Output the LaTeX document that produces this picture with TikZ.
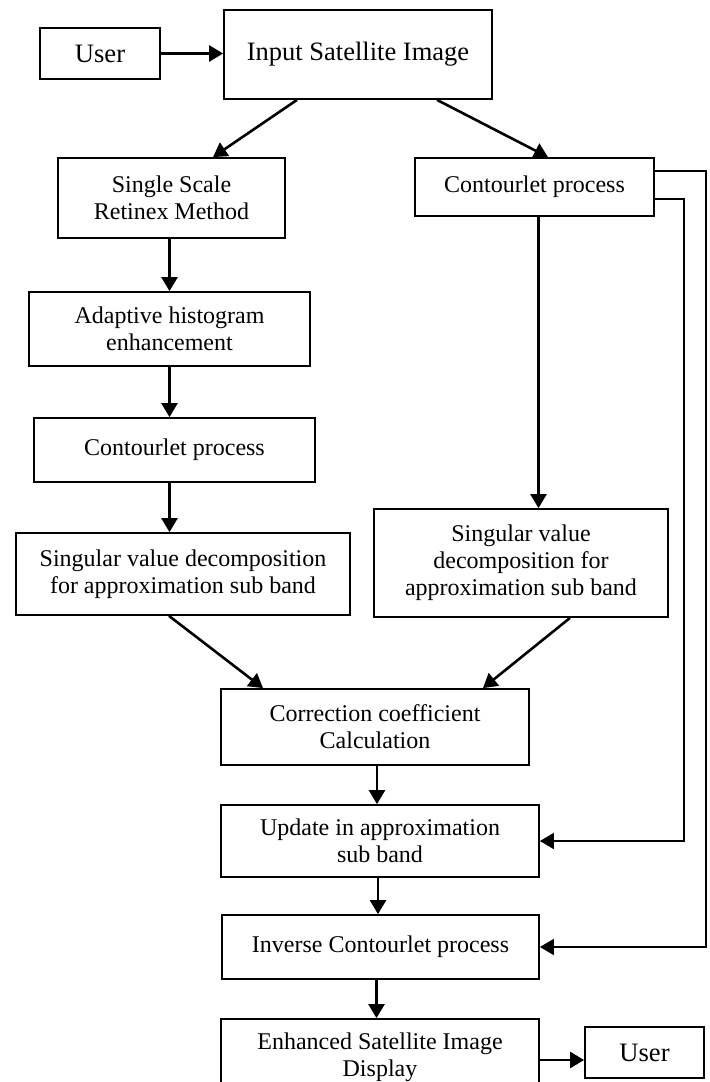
\documentclass[tikz,border=0pt]{standalone}
\usepackage{fontspec}
\setmainfont{Liberation Serif}
\usetikzlibrary{arrows.meta}
\tikzstyle{line} = [draw, -{Triangle[length=7pt, width=8pt]}, line width=1.3pt]
\tikzstyle{feedback} = [draw, -{Triangle[length=7pt, width=8pt]}, line width=0.9pt]
\tikzstyle{block} = [draw, line width=0.9pt, align=center, inner sep=2pt, font=\fontsize{12}{13.5}\selectfont]

\begin{document}
\begin{tikzpicture}[x=0.5pt, y=-0.5pt]
        \useasboundingbox (0,0) rectangle (709,1082);

        \node[block, minimum width=60pt, minimum height=25.5pt, font=\fontsize{13.3}{15}\selectfont] (user1) at (100,53.5) {User};
        \node[block, minimum width=134pt, minimum height=44.5pt, font=\fontsize{13.25}{15}\selectfont] (input) at (358,54.5) {Input Satellite Image};

        \node[block, minimum width=113.5pt, minimum height=40pt] (retinex) at (171.5,198) {Single Scale\\ Retinex Method};
        \node[block, minimum width=119.5pt, minimum height=29pt] (contour2) at (534.5,187) {Contourlet process};

        \node[block, minimum width=140.5pt, minimum height=37pt] (adaptive) at (169.5,329) {Adaptive histogram\\ enhancement};
        \node[block, minimum width=140.5pt, minimum height=32pt] (contour1) at (174.5,450) {Contourlet process};

        \node[block, minimum width=167pt, minimum height=41pt] (svd1) at (183,574) {Singular value decomposition\\ for approximation sub band};
        \node[block, minimum width=147pt, minimum height=54pt] (svd2) at (521,563) {Singular value\\ decomposition for\\ approximation sub band};

        \node[block, minimum width=154pt, minimum height=38pt] (correction) at (375,727) {Correction coefficient\\ Calculation};
        \node[block, minimum width=159pt, minimum height=36pt] (update) at (380,841) {Update in approximation\\ sub band};
        \node[block, minimum width=158.5pt, minimum height=32pt] (inverse) at (380.5,947) {Inverse Contourlet process};
        \node[block, minimum width=159pt, minimum height=38pt] (enhanced) at (380,1057) {Enhanced Satellite Image\\ Display};
        \node[block, minimum width=59.5pt, minimum height=25.5pt, font=\fontsize{13.3}{15}\selectfont] (user2) at (644.5,1052.5) {User};

        % main flow
        \draw[line] (user1.east) -- (user1.east -| input.west);
        \draw[line] ([xshift=-30.5pt]input.south) -- ([xshift=20.75pt]retinex.north);
        \draw[line] ([xshift=39.5pt]input.south) -- ([xshift=6.75pt]contour2.north);
        \draw[line] ([xshift=-1pt]retinex.south) -- ([xshift=-1pt]retinex.south |- adaptive.north);
        \draw[line] (adaptive.south) -- (adaptive.south |- contour1.north);
        \draw[line] ([xshift=-2.5pt]contour1.south) -- ([xshift=-2.5pt]contour1.south |- svd1.north);
        \draw[line] ([xshift=2pt]contour2.south) -- ([xshift=2pt]contour2.south |- svd2.north);
        \draw[line] ([xshift=-7pt]svd1.south) -- ([xshift=-56pt]correction.north);
        \draw[line] ([xshift=24.5pt]svd2.south) -- ([xshift=54pt]correction.north);
        \draw[line] ([xshift=1pt]correction.south) -- ([xshift=1pt]correction.south |- update.north);
        \draw[line] ([xshift=-1pt]update.south) -- ([xshift=-1pt]update.south |- inverse.north);
        \draw[line] ([xshift=-2pt]inverse.south) -- ([xshift=-2pt]inverse.south |- enhanced.north);
        \draw[line] ([yshift=-1.5pt]enhanced.east) -- ([yshift=-1.5pt]enhanced.east -| user2.west);

        % feedback from contourlet
        \draw[feedback] ([yshift=8pt]contour2.east) -- ++(25.5pt,0) |- (inverse.east);
        \draw[feedback] ([yshift=-6pt]contour2.east) -- ++(14.5pt,0) |- (update.east);
    \end{tikzpicture}
\end{document}
